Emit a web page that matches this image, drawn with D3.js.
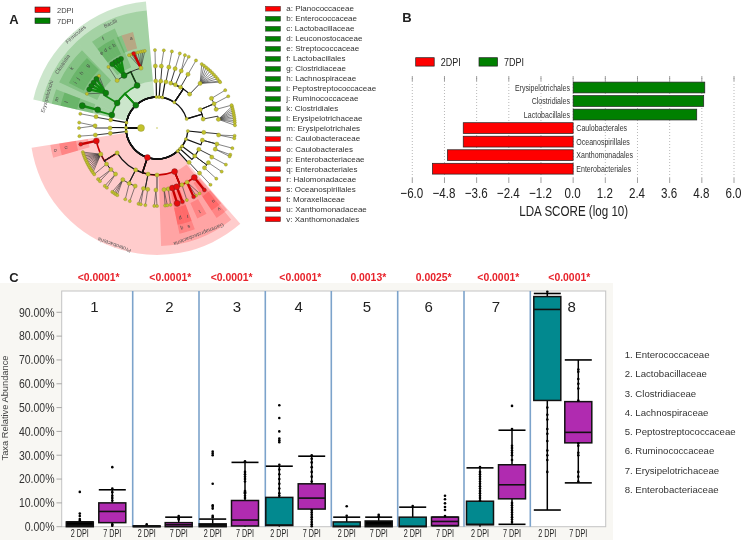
<!DOCTYPE html>
<html><head><meta charset="utf-8">
<script src="https://cdn.jsdelivr.net/npm/d3@7/dist/d3.min.js"></script>
<style>html,body{margin:0;padding:0;background:#fff}svg{display:block;filter:blur(.3px)}text{font-family:"Liberation Sans",Arial,sans-serif}</style>
</head><body><svg id="c" width="743" height="540"></svg>
<script>
// ---------- Panel A data (cladogram): [id, parent, level, angle in degrees clockwise from east]
const branches = [
["root",null,0,180],
["p1","root",1,5.6],["p2","root",1,21],["p3","root",1,36],["p4","root",1,42],["p5","root",1,48],["prot","root",1,108],
["pa","root",1,173.5],["pb","root",1,180.6],["pc","root",1,190],["firm","root",1,227],["pd","root",1,269],["pe","root",1,274],["pf","root",1,280],["pg","root",1,304],["ph","root",1,343],
["c1","p1",2,5.4],["c2","p2",2,15],["c3","p3",2,27],["c4","p4",2,36.6],["c5","p5",2,47],
["gamma","prot",2,68],["alpha","prot",2,148],["beta","prot",2,117],["delta","prot",2,101],["eps","prot",2,90],
["ca","pa",2,173.5],["cb","pb",2,180],["cc","pc",2,190],["bacilli","firm",2,245],["clost","firm",2,212],["erys","firm",2,196],
["cd","pd",2,268.4],["ce","pe",2,274.6],["cf","pf",2,281],["cg1","pg",2,287],["cg2","pg",2,293],["cg3","pg",2,300],["cg4","pg",2,314],["ch1","ph",2,349],["ch2","ph",2,337],
["o1","c1",3,6.5],["o2","c2",3,15],["o3","c2",3,20],["o4","c3",3,28],["o5","c4",3,34],["o6","c4",3,40],["o7","c5",3,46.7],
["g1","gamma",3,83.5],["g2","gamma",3,79.5],["q","gamma",3,75.6],["s","gamma",3,71.5],["g5","gamma",3,66.3],["g6","gamma",3,61],["v","gamma",3,53],
["o","alpha",3,168],["a2","alpha",3,155],["a3","alpha",3,144.5],["a4","alpha",3,138],["a5","alpha",3,132],
["b1","beta",3,123.5],["b2","beta",3,116.6],["b3","beta",3,110.6],["d1","delta",3,102.6],["d2","delta",3,98.6],["e1","eps",3,91],
["oa","ca",3,173.5],["ob","cb",3,182],["oc","cc",3,190.5],["f","bacilli",3,238],["bac2","bacilli",3,255],["bac3","bacilli",3,230],["k","clost",3,214.4],["m","erys",3,197],
["od","cd",3,268.5],["oe","ce",3,274],["of","cf",3,281],["og1","cg1",3,287],["og2","cg2",3,293],["og3","cg3",3,300],["og4","cg4",3,314],["oh1","ch1",3,352],["oh2","ch2",3,342.5],["oh3","ch2",3,337],["oh4","ch2",3,331.5]
];
const leafFans = [
["o1",[5.7,7.6]],["o2",[15]],["o3",[20,21.4]],["o4",[28]],["o5",[34]],["o6",[40.5]],["o7",[46.7]],
["g1",[84,82.4]],["g2",[80]],["g5",[67.5]],["g6",[60,57]],
["a2",[162,160.6,159.2,157.8,156.4,155,153.6,152.2,150.8,149.4,148,146.6,145.2]],["a3",[143.6]],["a4",[139,137]],["a5",[132,130]],
["b1",[125,123.4,122,120.6]],["b2",[114]],["b3",[110.4]],["d1",[103.7,102]],["d2",[98.6]],["e1",[92,90]],
["oa",[174]],["ob",[184,180]],["oc",[190.5]],["bac3",[231.5]],["bac2",[249,251,254,256,258,259.5,261]],["k",[206,220.5,222]],
["od",[268.5]],["oe",[275]],["of",[281]],["og1",[287]],["og2",[294,291]],["og3",[300]],
["og4",[305,307,309,311,313,315,317,319,321,323,324]],["oh1",[344,345.5,347,348.5,350,351.5,353,354.5,356,358]],["oh2",[343]],["oh3",[336]],["oh4",[331]]
];
const markedLeaves = [
["p","q",75,"r"],["r","s",71,"r"],["t","g6",62,"r"],["u","v",52.6,"r"],["n","o",168,"r"],["a","bac2",252.6,"r"],
["b","f",242.5,"g"],["c","f",240,"g"],["d","f",237.6,"g"],["e","f",235,"g"],
["g","k",219,"g"],["h","k",215.7,"g"],["i","k",212.7,"g"],["j","k",209.7,"g"],["l","m",196.6,"g"]
];
const markedBranches = {prot:"r",gamma:"r",q:"r",s:"r",v:"r",o:"r",firm:"g",bacilli:"g",clost:"g",erys:"g",f:"g",k:"g",m:"g"};
const bigLeaves = {p:3.1,l:3.1,b:2.6,c:2.6,d:2.6,e:2.6,g:2.6,h:2.6,i:2.6,j:2.6};
// [start angle, end angle, outer tier, inner radius, colour]
const sectors = [
[193,265,4,31,"g"],[49,171,4,31,"r"],
[227,265,3,47,"g"],[201,227,3,47,"g"],[193,201,3,47,"g"],[51,88,3,47,"r"],
[233,247,2,66,"g"],[205,226,2,66,"g"],[193,201,2,66,"g"],[164,171,2,70,"r"],[73.5,78,2,66,"r"],[69.5,73.5,2,66,"r"],[49.5,56.5,2,66,"r"],
[249,256,1,82,"r"],[246,249,1,82,"g"],[233,236,1,82,"g"],[236,238.5,1,82,"g"],[238.5,241,1,82,"g"],[241,244,1,82,"g"],
[219,225,1,82,"g"],[213,219,1,82,"g"],[207,213,1,82,"g"],[193,201,1,82,"g"],[164,171,1,82,"r"],
[73.5,78,1,82,"r"],[69.5,73.5,1,82,"r"],[60,66,1,82,"r"],[49.5,56.5,1,82,"r"]
];
const cladeNames = [["Firmicutes",229,123.6,5.4],["Proteobacteria",110,124,5.4],["Bacilli",246,114,5.4],["Clostridia",214,113.6,5.4],["Erysipelotrichi",196,114,5.4],["Gammaproteobacteria",68.6,114,5.4]];
const nodeLetters = [["a",254,93],["f",239,104],["e",233.5,93],["d",236.5,93],["c",239.5,93],["b",242.5,93],["k",215,104],["g",222,93],["h",216,93],["i",209,93],["j",212,93],["m",196,104],["l",196,94],["o",167.6,104],["n",168,93],["q",76,103],["p",75.5,93],["s",72,103.5],["r",71,93.5],["t",63,93.5],["v",52.5,102],["u",52.4,92.5]];
const cladoLegend = ["2DPI","7DPI"];
const taxaKey = ["a: Planococcaceae","b: Enterococcaceae","c: Lactobacillaceae","d: Leuconostocaceae","e: Streptococcaceae","f: Lactobacillales","g: Clostridiaceae","h: Lachnospiraceae","i: Peptostreptococcaceae","j: Ruminococcaceae","k: Clostridiales","l: Erysipelotrichaceae","m: Erysipelotrichales","n: Caulobacteraceae","o: Caulobacterales","p: Enterobacteriaceae","q: Enterobacteriales","r: Halomonadaceae","s: Oceanospirillales","t: Moraxellaceae","u: Xanthomonadaceae","v: Xanthomonadales"];
const taxaKeyGroup = ["r","g","g","g","g","g","g","g","g","g","g","g","g","r","r","r","r","r","r","r","r","r"];
// ---------- Panel B data
const ldaNames = ["Erysipelotrichales","Clostridiales","Lactobacillales","Caulobacterales","Oceanospirillales","Xanthomonadales","Enterobacteriales"];
const ldaValues = [4.91,4.87,4.61,-4.10,-4.10,-4.69,-5.25];
const ldaTicks = [-6,-4.8,-3.6,-2.4,-1.2,0,1.2,2.4,3.6,4.8,6];
// ---------- Panel C data
const family = ["Enterococcaceae","Lactobacillaceae","Clostridiaceae","Lachnospiraceae","Peptostreptococcaceae","Ruminococcaceae","Erysipelotrichaceae","Enterobacteriaceae"];
const pValues = ["<0.0001*","<0.0001*","<0.0001*","<0.0001*","0.0013*","0.0025*","<0.0001*","<0.0001*"];
const dayLabels = ["2 DPI","7 DPI"];
const yTicks = [0,10,20,30,40,50,60,70,80,90];
// one entry per box: two per family (2 DPI, 7 DPI)
const q1 =   [0,1.7, 0,0, 0,0.3, 0.5,7.4, 0,0, 0,0.5, 0.8,11.7, 53,35.2];
const med =  [0.6,6.4, 0.1,0.8, 0.4,2.8, 0.7,12, 0.2,0.6, 0.2,2.2, 1,17.6, 91.2,39.6];
const q3 =   [2,10, 0.3,1.7, 1.2,11, 12.3,18, 2,2.4, 4,4, 10.7,26, 96.6,52.5];
const whiskLo = [0,0, 0,0, 0,0, 0,0, 0,0, 0,0.4, 0,1, 7,18.4];
const whiskHi = [2,15.5, 0.3,4, 3.2,27, 25.4,29.6, 4,4, 8.2,4, 24.7,40.5, 97.9,70];
const lowCap = [0,0, 0,0, 0,0, 0,0, 0,0, 0,1, 0,1, 1,1];
const boxFill = ["#000","p", "t","p", "#000","p", "t","p", "t","#000", "t","p", "t","p", "t","p"];
const outliers = [
[14.6,5.5,4.5,3.2,2.6],[25,16,14.5,13,12,11,1,0.4],
[1],[4.5,3.5,3],
[31.5,30.7,30,18,9,8.4,7.6,4.6,4],[27.5,23,22,21,20,19,15,14.5,14,13,12],
[51,45.6,40,37,36.3,35.5,26,24,22,20,18,16,14,13],[30,28.5,27,25,23,21,19,7,6,5,4,3,2,1,0.2],
[8.6,4.6],[5,4.4],
[8.7],[13,11.5,9.8,8.3,7,4.5],
[25,23,22,21,20,19,18,17,16,15,14,13,12,11],[50.7,41,34,33,32,31,30,28,10,9,8,7,6,5,4,3,2],
[98.6,50,47,45,41,39,36,32,30,28,23],[66,65,62,60,58,53,35,34,31,30,23,21,19]
];

// ---------- drawing
const svg = d3.select("#c");
const RED="#ff0000", GREEN="#008000";
const col = {r:RED,g:GREEN};
const linkCol = {r:"#c80000",g:"#0f8a0f"};
const darkCol = {r:"#e60b0b",g:"#0b800b"};

function narrow(g,x,y,str,size,sx,anchor,fill,extra){
  const t=g.append("text").attr("transform",`translate(${x},${y}) scale(${sx},1)`)
    .attr("font-size",size).attr("text-anchor",anchor||"middle").attr("fill",fill||"#222").text(str);
  if(extra) t.attr("font-family",extra);
  return t;
}
[["A",14,24],["B",407,22],["C",14,282]].forEach(d=>svg.append("text").attr("x",d[1]).attr("y",d[2]).attr("text-anchor","middle").attr("font-size",13).attr("font-weight","bold").attr("fill","#222").text(d[0]));

// ===== Panel A
const A = svg.append("g").attr("transform","translate(157,128)");
const radius = d3.scaleOrdinal().domain([0,1,2,3,4]).range([16,31,47,62,78]);
const tier = d3.scaleOrdinal().domain([1,2,3,4]).range([99,108,118,127]);
const rad = d3.scaleLinear().domain([0,360]).range([0,2*Math.PI]);
const pol = (r,a)=>[r*Math.cos(rad(a)),r*Math.sin(rad(a))];
const arcGen = d3.arc();
A.selectAll("path.sector").data(sectors).join("path").attr("class","sector")
 .attr("d",d=>arcGen({innerRadius:d[3],outerRadius:tier(d[2]),startAngle:rad(d[0]+90),endAngle:rad(d[1]+90)}))
 .attr("fill",d=>col[d[4]]).attr("fill-opacity",.2);

const byId = new Map(branches.map(b=>[b[0],{id:b[0],parent:b[1],level:b[2],angle:b[3]}]));
const links=[],nodes=[];
branches.forEach(b=>{
  if(!b[1]) return;
  const p=byId.get(b[1]);
  const r=radius(b[2]), m=markedBranches[b[0]];
  const path=d3.path();
  const s=pol(radius(p.level),p.angle); path.moveTo(s[0],s[1]);
  const e=pol(r,p.angle); path.lineTo(e[0],e[1]);
  let dA=b[3]-p.angle;
  if(dA>180)dA-=360; if(dA<-180)dA+=360;
  path.arc(0,0,r,rad(p.angle),rad(p.angle+dA),dA<0);
  links.push({d:path.toString(),m:(b[2]==1?null:m),level:b[2]});
});
leafFans.forEach(f=>{
  const p=byId.get(f[0]);
  f[1].forEach(a=>{
    const path=d3.path(),s=pol(radius(3),p.angle),e=pol(radius(4),a);
    path.moveTo(s[0],s[1]);path.lineTo(e[0],e[1]);
    links.push({d:path.toString(),level:4,leaf:true});
    nodes.push({a,level:4});
  });
});
markedLeaves.forEach(f=>{
  const p=byId.get(f[1]);
  const path=d3.path(),s=pol(radius(3),p.angle),e=pol(radius(4),f[2]);
  path.moveTo(s[0],s[1]);path.lineTo(e[0],e[1]);
  links.push({d:path.toString(),level:4,m:f[3]});
  nodes.push({a:f[2],level:4,m:f[3],size:bigLeaves[f[0]]||2});
});
branches.forEach(b=>nodes.push({a:b[3],level:b[2],m:markedBranches[b[0]]}));
A.selectAll("path.link").data(links).join("path").attr("class","link").attr("d",d=>d.d).attr("fill","none")
 .attr("stroke",d=>d.m?linkCol[d.m]:(d.level<=2?"#111":(d.leaf?"#333":"#222")))
 .attr("stroke-width",d=>d.m?(d.level==4?2.4:1.7):(d.level==1?1.4:(d.level==2?1.2:(d.level==3?.9:.6))));
const nodeSize = d=>{
  if(d.size) return d.size;
  if(d.level==0) return 3.5;
  if(d.m) return 3;
  return d.level==1?1.6:(d.level==4?1.6:2.1);
};
A.selectAll("circle.node").data(nodes).join("circle").attr("class","node")
 .attr("cx",d=>pol(radius(d.level),d.a)[0]).attr("cy",d=>pol(radius(d.level),d.a)[1])
 .attr("r",nodeSize).attr("fill",d=>d.m?darkCol[d.m]:"#c2c22c").attr("stroke",d=>d.m?"#333":"#77772a").attr("stroke-width",.3);
A.append("circle").attr("r",.7).attr("fill","#b8b92c");
cladeNames.forEach(d=>{
  const p=pol(d[2],d[1]);
  A.append("text").attr("transform",`translate(${p[0]},${p[1]}) rotate(${d[1]+90})`).attr("text-anchor","middle").attr("dominant-baseline","middle")
   .attr("font-size",d[3]).attr("font-family","DejaVu Sans").attr("fill","#555").text(d[0]);
});
nodeLetters.forEach(d=>{
  const p=pol(d[2],d[1]);
  A.append("text").attr("transform",`translate(${p[0]},${p[1]}) rotate(${d[1]+90})`).attr("text-anchor","middle").attr("dominant-baseline","middle")
   .attr("font-size",5.2).attr("font-family","DejaVu Sans").attr("fill","#444").text(d[0]);
});
const legA = svg.append("g");
cladoLegend.forEach((t,i)=>{
  const y=d3.scaleLinear().domain([0,1]).range([7,18])(i);
  legA.append("rect").attr("x",35).attr("y",y).attr("width",15).attr("height",5.5).attr("fill",i?GREEN:RED).attr("stroke","#222").attr("stroke-width",.6);
  legA.append("text").attr("x",57).attr("y",y+6).attr("font-size",7.5).attr("font-family","DejaVu Sans").attr("fill","#444").text(t);
});
const keyY = d3.scalePoint().domain(taxaKey).range([8.7,219.3]);
const key = svg.append("g");
key.selectAll("rect").data(taxaKey).join("rect").attr("x",265.5).attr("y",d=>keyY(d)-2.4).attr("width",15).attr("height",4.8)
  .attr("fill",(d,i)=>col[taxaKeyGroup[i]]).attr("stroke","#333").attr("stroke-width",.5);
key.selectAll("text").data(taxaKey).join("text").attr("x",286.3).attr("y",d=>keyY(d)+2.4).attr("font-size",8).attr("font-family","DejaVu Sans").attr("fill","#333").text(d=>d);

// ===== Panel B
const B = svg.append("g");
const xL = d3.scaleLinear().domain([-6,6]).range([412.3,734]);
const yL = d3.scalePoint().domain(ldaNames).range([87.5,168.7]);
ldaTicks.forEach(t=>{
  const x=xL(t);
  B.append("line").attr("x1",x).attr("x2",x).attr("y1",78).attr("y2",178).attr("stroke","#999").attr("stroke-width",.7).attr("stroke-dasharray","1 2");
  B.append("line").attr("x1",x).attr("x2",x).attr("y1",76).attr("y2",81).attr("stroke","#777").attr("stroke-width",.7);
  B.append("line").attr("x1",x).attr("x2",x).attr("y1",178).attr("y2",183).attr("stroke","#777").attr("stroke-width",.7);
  narrow(B,x-0.5,198,(t<0?"\u2212":"")+Math.abs(t).toFixed(1),14.5,.8,"middle","#222","DejaVu Sans");
});
B.selectAll("rect.lda").data(ldaNames).join("rect").attr("class","lda")
 .attr("x",(d,i)=>Math.min(xL(0),xL(ldaValues[i]))).attr("width",(d,i)=>Math.abs(xL(ldaValues[i])-xL(0)))
 .attr("y",d=>yL(d)-5.4).attr("height",10.8).attr("fill",(d,i)=>ldaValues[i]>0?GREEN:RED).attr("stroke","#222").attr("stroke-width",.7);
ldaNames.forEach((n,i)=>{
  const pos=ldaValues[i]>0;
  narrow(B,pos?570:576.3,yL(n)+3,n,8.2,.86,pos?"end":"start","#333","DejaVu Sans");
});
narrow(B,573.7,216,"LDA SCORE (log 10)",14.5,.8,"middle","#222","DejaVu Sans");
cladoLegend.forEach((t,i)=>{
  const x=d3.scaleLinear().domain([0,1]).range([415.7,479])(i);
  B.append("rect").attr("x",x).attr("y",57.7).attr("width",18.5).attr("height",8.4).attr("fill",i?GREEN:RED).attr("stroke","#222").attr("stroke-width",.7);
  narrow(B,x+25,66,t,11,.82,"start","#222","DejaVu Sans");
});

// ===== Panel C
const C = svg.append("g");
C.append("rect").attr("x",0).attr("y",283).attr("width",613).attr("height",257).attr("fill","#f8f7f3");
const y = d3.scaleLinear().domain([0,90]).range([526.7,312.3]);
C.append("rect").attr("x",61.7).attr("y",291).attr("width",544).attr("height",235.7).attr("fill","#fff").attr("stroke","#c4c4c4").attr("stroke-width",1);
const sepX = d3.scaleOrdinal().domain(family.slice(1)).range([132.7,199,265.3,331.3,397.7,464,530.3]);
family.slice(1).forEach(f=>C.append("line").attr("x1",sepX(f)).attr("x2",sepX(f)).attr("y1",291).attr("y2",526.7).attr("stroke","#7ca3cb").attr("stroke-width",1.6));
yTicks.forEach(t=>{
  C.append("line").attr("x1",56.5).attr("x2",61.7).attr("y1",y(t)).attr("y2",y(t)).attr("stroke","#888").attr("stroke-width",.7);
  narrow(C,54.5,y(t)+4.3,t.toFixed(2)+"%",12.5,.84,"end","#333");
});
C.append("text").attr("transform","translate(8,408) rotate(-90)").attr("text-anchor","middle").attr("font-size",9.3).attr("fill","#444").text("Taxa Relative Abundance");
const firstBox = d3.scaleOrdinal().domain(family).range([79.8,146.7,212.7,279.3,346.7,412.7,480,547.3]);
const dayStep = d3.scaleOrdinal().domain(family).range([32.5,32,32.3,32.4,32,32.3,32,31]);
const numberX = d3.scaleOrdinal().domain(family).range([94.3,169.3,237,298.7,367,428.7,496,571.7]);
const pX = d3.scaleOrdinal().domain(family).range([98.7,170.3,231.7,300.3,368.3,433.7,498.3,569.3]);
const fills = {t:"#02898f",p:"#b02bb0"};
const bw = 27;
family.forEach((f,fi)=>{
  C.append("text").attr("x",numberX(f)).attr("y",311.5).attr("text-anchor","middle").attr("font-size",15).attr("font-family","Open Sans").attr("fill","#222").text(fi+1);
  svg.append("text").attr("x",pX(f)).attr("y",281).attr("text-anchor","middle").attr("font-size",10.4).attr("font-weight","bold").attr("fill","#e8222a").text(pValues[fi]);
  dayLabels.forEach((dl,di)=>{
    const i=fi*2+di, cx=firstBox(f)+di*dayStep(f);
    narrow(C,cx,537.3,dl,10,.72,"middle","#222");
    const g=C.append("g");
    g.append("line").attr("x1",cx).attr("x2",cx).attr("y1",y(whiskLo[i])).attr("y2",y(whiskHi[i])).attr("stroke","#000").attr("stroke-width",1.5);
    [whiskHi[i]].concat(lowCap[i]?[whiskLo[i]]:[]).forEach(v=>g.append("line").attr("x1",cx-bw/2).attr("x2",cx+bw/2).attr("y1",y(v)).attr("y2",y(v)).attr("stroke","#000").attr("stroke-width",1.6));
    g.append("rect").attr("x",cx-bw/2).attr("width",bw).attr("y",y(q3[i])).attr("height",Math.max(y(q1[i])-y(q3[i]),.5))
      .attr("fill",fills[boxFill[i]]||boxFill[i]).attr("stroke","#111").attr("stroke-width",1.5);
    g.append("line").attr("x1",cx-bw/2).attr("x2",cx+bw/2).attr("y1",y(med[i])).attr("y2",y(med[i])).attr("stroke","#111").attr("stroke-width",1.6);
    g.selectAll("circle").data(outliers[i]).join("circle").attr("cx",cx).attr("cy",v=>y(v)).attr("r",1.3).attr("fill","#000");
  });
});
const listY = d3.scalePoint().domain(family).range([354.5,489.7]);
family.forEach((f,i)=>svg.append("text").attr("x",624.7).attr("y",listY(f)+3.4).attr("font-size",9.6).attr("font-family","Lato").attr("fill","#333").text((i+1)+". "+f));
</script></body></html>
